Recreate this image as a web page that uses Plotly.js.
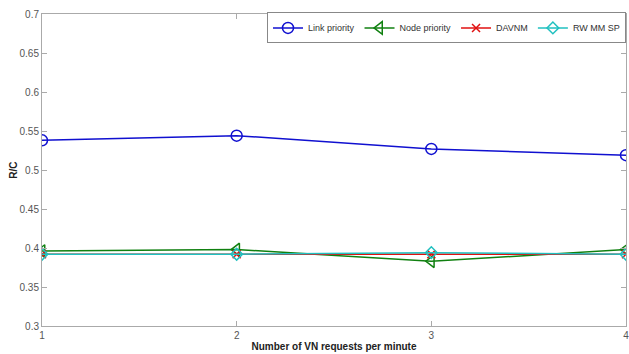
<!DOCTYPE html>
<html><head><meta charset="utf-8">
<script src="https://cdn.plot.ly/plotly-3.0.1.min.js"></script>
<style>html,body{margin:0;padding:0;background:#fff}#chart{width:629px;height:354px}</style>
</head><body><div id="chart"></div>
<script>
const xRequests = [1, 2, 3, 4];
const linkPriority = [0.538, 0.544, 0.527, 0.519];
const nodePriority = [0.396, 0.398, 0.383, 0.398];
const davnm = [0.392, 0.392, 0.392, 0.392];
const rwMmSp = [0.392, 0.392, 0.394, 0.392];
const yTicks = [0.3, 0.35, 0.4, 0.45, 0.5, 0.55, 0.6, 0.65, 0.7];
const yTickText = ['0.3', '0.35', '0.4', '0.45', '0.5', '0.55', '0.6', '0.65', '0.7'];

const traces = [
  {x: xRequests, y: linkPriority, name: 'Link priority', mode: 'lines+markers',
   line: {color: '#1010d0', width: 1.5},
   marker: {symbol: 'circle-open', size: 11, color: '#1010d0', line: {width: 1.5}}},
  {x: xRequests, y: nodePriority, name: 'Node priority', mode: 'lines+markers',
   line: {color: '#108010', width: 1.5},
   marker: {symbol: 'triangle-left-open', size: 11, color: '#108010', line: {width: 1.5}}},
  {x: xRequests, y: davnm, name: 'DAVNM', mode: 'lines+markers',
   line: {color: '#e01010', width: 1.5},
   marker: {symbol: 'x-thin-open', size: 8, color: '#e01010', line: {width: 1.5, color: '#e01010'}}},
  {x: xRequests, y: rwMmSp, name: 'RW MM SP', mode: 'lines+markers',
   line: {color: '#20c0c0', width: 1.5},
   marker: {symbol: 'diamond-open', size: 9, color: '#20c0c0', line: {width: 1.5}}}
];

const layout = {
  width: 629, height: 354,
  margin: {l: 42, r: 3, t: 14, b: 28},
  paper_bgcolor: '#fff', plot_bgcolor: '#fff',
  font: {family: 'Liberation Sans, Arial, sans-serif', size: 10, color: '#555'},
  showlegend: true,
  legend: {orientation: 'h', x: 1.0, xanchor: 'right', y: 1.005, yanchor: 'top',
    bgcolor: '#fff', bordercolor: '#888', borderwidth: 1,
    font: {size: 9, color: '#333'}, itemwidth: 30, tracegroupgap: 0},
  xaxis: {range: [1, 4], tickvals: xRequests, ticktext: xRequests.map(String),
    showgrid: false, zeroline: false, showline: true, linecolor: '#aaa', linewidth: 1,
    mirror: 'ticks', ticks: 'inside', ticklen: 5, tickcolor: '#aaa',
    ticklabeloverflow: 'allow',
    tickfont: {size: 10, color: '#555'},
    title: {text: '<b>Number of VN requests per minute</b>', standoff: 2,
      font: {size: 10, color: '#222', family: 'Liberation Sans, Arial, sans-serif'}}},
  yaxis: {range: [0.3, 0.7], tickvals: yTicks, ticktext: yTickText,
    showgrid: false, zeroline: false, showline: true, linecolor: '#aaa', linewidth: 1,
    mirror: 'ticks', ticks: 'inside', ticklen: 5, tickcolor: '#aaa',
    automargin: true,
    tickfont: {size: 10, color: '#555'},
    title: {text: '<b>R/C</b>', standoff: 0, font: {size: 10, color: '#222'}}}
};

Plotly.newPlot('chart', traces, layout, {displayModeBar: false, staticPlot: true});
</script></body></html>
